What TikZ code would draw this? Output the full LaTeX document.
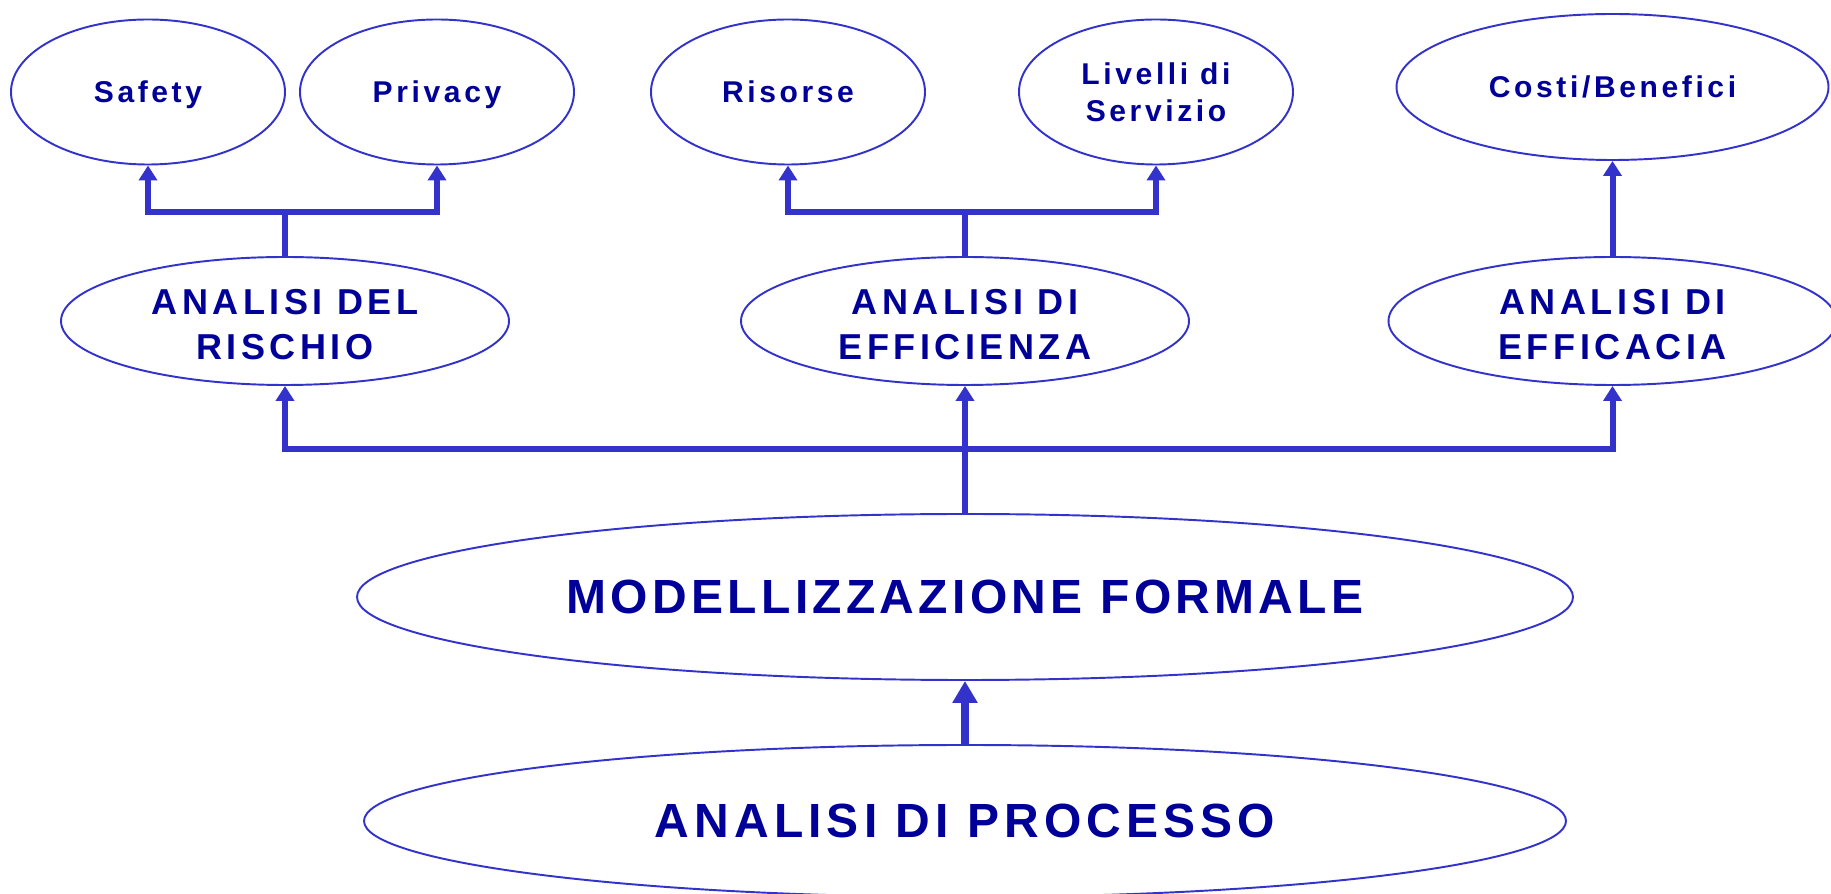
\documentclass[tikz,border=0pt]{standalone}
\usepackage{fontspec}
\setmainfont{Liberation Sans}
\newfontfamily\leaffnt{Liberation Sans}[LetterSpace=12]
\newfontfamily\midfnt{Liberation Sans}[LetterSpace=12.5]
\newfontfamily\bigfnt{Liberation Sans}[LetterSpace=9]
\newfontfamily\procfnt{Liberation Sans}[LetterSpace=10.7]
\usepackage{xcolor}
\usetikzlibrary{shapes,arrows,positioning,calc,arrows.meta}

\definecolor{lineblue}{HTML}{3333CC}
\definecolor{textblue}{HTML}{000099}

\tikzset{
  blob/.style={ellipse, draw=lineblue, line width=1.1pt, text=textblue, inner sep=0pt, align=center},
  leaf/.style={blob, minimum width=5.48cm, minimum height=2.9cm, text height=12.2pt, text depth=0pt,
    font=\leaffnt\bfseries\fontsize{17.1pt}{21pt}\selectfont},
  leafpair/.style={leaf, text height=33.4pt, text depth=0pt},
  study/.style={blob, minimum width=8.96cm, minimum height=2.56cm, text height=44pt, text depth=0pt,
    font=\midfnt\bfseries\fontsize{20.5pt}{25.6pt}\selectfont},
  basis/.style={blob, font=\bigfnt\bfseries\fontsize{27.3pt}{32pt}\selectfont},
  link/.style={draw=lineblue, line width=3.4pt},
  uparrow/.style={link, -{Triangle[width=0.36cm,length=0.3cm]}},
  bigup/.style={draw=lineblue, line width=4.5pt, -{Triangle[width=0.48cm,length=0.44cm]}}
}

\begin{document}
\begin{tikzpicture}
    \useasboundingbox (0,0) rectangle (36.62,-17.88);

    % Goals
    \node[leaf] (safety) at (2.96,-1.84) {Safety};
    \node[leaf] (privacy) at (8.74,-1.84) {Privacy};
    \node[leaf] (risorse) at (15.76,-1.84) {Risorse};
    \node[leafpair] (livelli) at (23.12,-1.84) {Livelli di\\Servizio};
    \node[leaf, minimum width=8.64cm, minimum height=2.92cm] (costi) at (32.25,-1.74) {Costi/Benefici};

    % Analyses
    \node[study] (rischio) at (5.70,-6.42) {ANALISI DEL\\RISCHIO};
    \node[study] (efficienza) at (19.30,-6.42) {ANALISI DI\\EFFICIENZA};
    \node[study] (efficacia) at (32.25,-6.42) {ANALISI DI\\EFFICACIA};

    % Base
    \node[basis, minimum width=24.32cm, minimum height=3.32cm] (modello) at (19.30,-11.94) {MODELLIZZAZIONE FORMALE};
    \node[basis, minimum width=24.04cm, minimum height=3.04cm, font=\procfnt\bfseries\fontsize{27.3pt}{32pt}\selectfont] (processo) at (19.30,-16.42) {ANALISI DI PROCESSO};

    % Upper branches
    \coordinate (splitR) at (rischio.north |- 0,-4.24);
    \coordinate (splitE) at (efficienza.north |- 0,-4.24);
    \draw[link] (rischio.north) -- (splitR);
    \draw[uparrow] (splitR) -| (safety.south);
    \draw[uparrow] (splitR) -| (privacy.south);
    \draw[link] (efficienza.north) -- (splitE);
    \draw[uparrow] (splitE) -| (risorse.south);
    \draw[uparrow] (splitE) -| (livelli.south);
    \draw[uparrow] (efficacia.north) -- (costi.south);

    % Lower branches
    \coordinate (splitM) at (modello.north |- 0,-8.98);
    \draw[uparrow] (modello.north) -- (efficienza.south);
    \draw[uparrow] (splitM) -| (rischio.south);
    \draw[uparrow] (splitM) -| (efficacia.south);

    \draw[bigup] (processo.north) -- (modello.south);
\end{tikzpicture}
\end{document}
